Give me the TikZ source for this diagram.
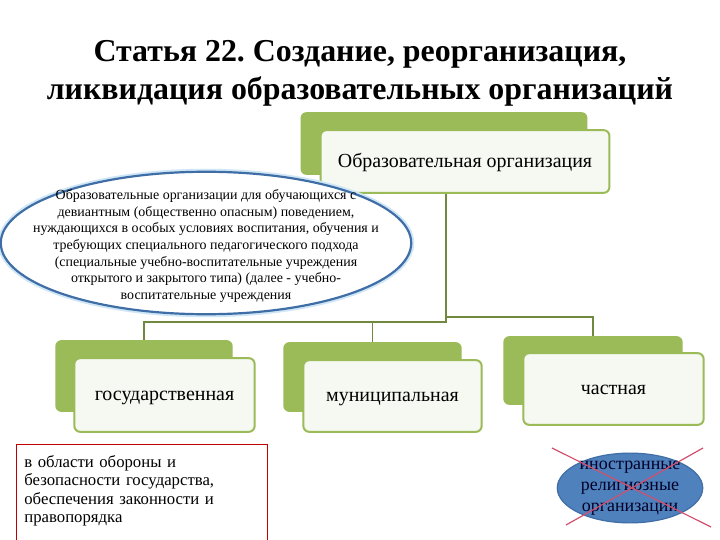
\documentclass[tikz,border=0pt]{standalone}
\usepackage{fontspec}
\setmainfont{Liberation Serif}
\usepackage{xcolor}
\usetikzlibrary{shapes.geometric}
\frenchspacing

\definecolor{olive}{HTML}{9BBB59}
\definecolor{olivedark}{HTML}{71893F}
\definecolor{paper}{HTML}{F6F8F2}
\definecolor{ringblue}{HTML}{3F6EA6}
\definecolor{glow}{HTML}{CFE6F6}
\definecolor{orgblue}{HTML}{4F81BD}
\definecolor{crossred}{HTML}{D2506E}

\tikzset{
  backbox/.style={rectangle, fill=olive, rounded corners=6pt, inner sep=0pt},
  frontbox/.style={rectangle, draw=olive, line width=2pt, fill=paper, rounded corners=6pt,
    inner sep=0pt, align=center, text height=12pt, text depth=0pt, font=\fontsize{20}{23}\selectfont},
  link/.style={draw=olivedark, line width=1.8pt},
}

\begin{document}
\begin{tikzpicture}[x=1bp, y=-1bp]
    \useasboundingbox[fill=white] (0,0) rectangle (720,540);

    % title
    \node[align=center, font=\fontsize{32}{38}\selectfont\bfseries] (title) at (360,73)
    {Статья 22. Создание, реорганизация,\\
    ликвидация образовательных организаций};

    % top level
    \node[backbox, minimum width=288, minimum height=63] (orgB) at (444,143.5) {};
    \node[frontbox, minimum width=290, minimum height=63] (orgF) at (465,161.5) {Образовательная организация};

    % second level
    \node[backbox, minimum width=178, minimum height=72] (stateB) at (144,376) {};
    \node[frontbox, minimum width=181, minimum height=74] (stateF) at (164.5,395) {государственная};
    \node[backbox, minimum width=179, minimum height=70] (munB) at (372.5,377) {};
    \node[frontbox, minimum width=179, minimum height=72] (munF) at (392.5,396) {муниципальная};
    \node[backbox, minimum width=180, minimum height=69] (privB) at (593,370.5) {};
    \node[frontbox, minimum width=181, minimum height=72] (privF) at (613.5,389) {частная};

    % connectors
    \coordinate (hub) at (446,322);
    \coordinate (hubR) at (446,317);
    \draw[link] (orgF.south -| hub) -- (hub) -| (stateB.north);
    \draw[link] (hub -| munB.north) -- (munB.north);
    \draw[link] (hubR) -| (privB.north);

    % special schools
    \node[ellipse, draw=ringblue, line width=2.2pt, fill=white, preaction={draw=glow, line width=6pt},
      minimum width=412, minimum height=143, inner sep=0pt] (special) at (206,243) {};
    \node[align=center, font=\fontsize{14}{16.6}\selectfont] (specialtxt) at (special.center) [yshift=-3]
    {Образовательные организации для обучающихся с\\
    девиантным (общественно опасным) поведением,\\
    нуждающихся в особых условиях воспитания, обучения и\\
    требующих специального педагогического подхода\\
    (специальные учебно-воспитательные учреждения\\
    открытого и закрытого типа) (далее - учебно-\\
    воспитательные учреждения};

    % defence note
    \node[rectangle, draw=red!75!black, line width=0.8pt, anchor=north west, text width=236,
      inner xsep=8, inner ysep=11, minimum height=104, align=left,
      font=\fontsize{16.8}{18.6}\selectfont] (defence) at (16,444)
    {в области обороны и\\
    безопасности государства,\\
    обеспечения законности и\\
    правопорядка\\ \strut};

    % religious organisations, crossed out
    \node[ellipse, draw=ringblue, line width=1.2pt, fill=orgblue, minimum width=146, minimum height=70,
      inner sep=0pt] (relig) at (630,488) {};
    \node[align=center, text=black!85!blue, font=\fontsize{18}{21}\selectfont] (religtxt) at (relig.center)
    {иностранные\\религиозные\\организации};
    \coordinate (xa) at (552,448);
    \coordinate (xb) at (711,527);
    \coordinate (xc) at (703,448);
    \coordinate (xd) at (566,525);
    \draw[crossred, line width=1.2pt] (xa) -- (xb);
    \draw[crossred, line width=1.2pt] (xc) -- (xd);
\end{tikzpicture}
\end{document}
